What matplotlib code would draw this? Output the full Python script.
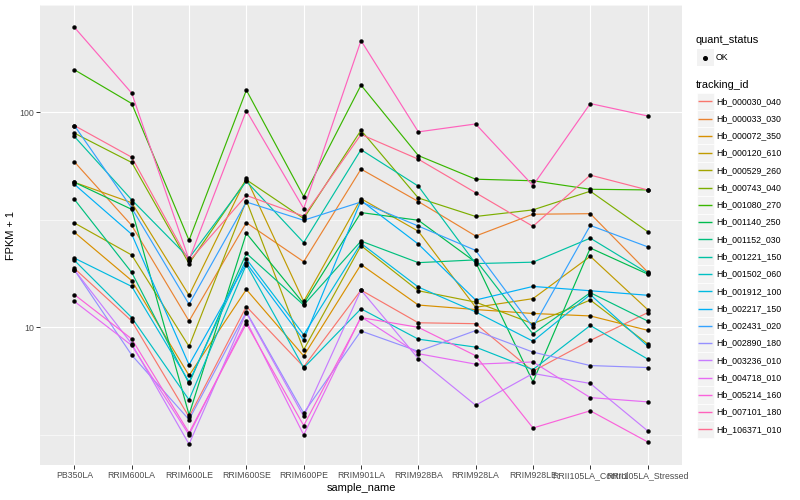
import numpy as np
import matplotlib
matplotlib.use("Agg")
import matplotlib.pyplot as plt
from matplotlib.patches import Rectangle

plt.rcParams['font.family'] = ['Liberation Sans', 'DejaVu Sans']

samples = ["PB350LA", "RRIM600LA", "RRIM600LE", "RRIM600SE", "RRIM600PE", "RRIM901LA",
           "RRIM928BA", "RRIM928LA", "RRIM928LE", "RRII105LA_Control", "RRII105LA_Stressed"]

Hb_000030_040 = [18.8, 10.7, 3.83, 12.5, 6.55, 14.9, 10.5, 10.4, 6.25, 8.69, 11.7]
Hb_000033_030 = [58.9, 29.8, 10.7, 30.7, 20.2, 54.5, 38.5, 26.6, 33.6, 33.8, 18.1]
Hb_000072_350 = [27.7, 16.5, 5.97, 15.0, 7.36, 19.6, 12.7, 12.1, 11.6, 11.3, 9.69]
Hb_000120_610 = [47.3, 38.0, 14.1, 49.4, 13.2, 39.7, 28.0, 12.4, 13.6, 21.4, 12.1]
Hb_000529_260 = [30.6, 21.7, 8.15, 38.9, 7.86, 24.0, 14.8, 13.1, 10.4, 13.4, 8.38]
Hb_000743_040 = [80.1, 58.5, 19.8, 48.6, 32.1, 82.6, 40.0, 32.8, 35.2, 43.0, 27.9]
Hb_001080_270 = [158, 110, 25.4, 127, 40.6, 134, 63.0, 48.9, 48.1, 43.9, 43.6]
Hb_001140_250 = [47.3, 35.4, 3.92, 27.4, 12.9, 34.2, 31.5, 20.1, 5.58, 23.4, 17.7]
Hb_001152_030 = [39.4, 18.0, 5.48, 22.1, 12.7, 25.2, 20.0, 20.6, 9.31, 14.5, 10.7]
Hb_001221_150 = [77.3, 39.2, 21.0, 47.8, 24.8, 67.1, 45.4, 19.8, 20.1, 26.0, 17.9]
Hb_001502_060 = [20.5, 11.1, 4.60, 19.6, 6.48, 12.2, 8.81, 8.09, 6.36, 10.2, 7.12]
Hb_001912_100 = [21.0, 15.5, 5.58, 20.8, 9.24, 24.6, 15.4, 11.8, 8.62, 14.2, 8.18]
Hb_002217_150 = [46.3, 27.1, 6.69, 19.9, 8.74, 38.9, 24.4, 13.4, 15.5, 14.8, 14.1]
Hb_002431_020 = [86.9, 35.9, 12.8, 38.3, 31.5, 38.3, 29.6, 22.8, 10.0, 29.8, 23.7]
Hb_002890_180 = [18.5, 7.43, 3.72, 11.8, 3.99, 9.62, 7.73, 9.66, 7.67, 6.64, 6.50]
Hb_003236_010 = [18.5, 8.38, 2.86, 11.7, 3.85, 14.9, 7.15, 4.34, 6.10, 5.48, 3.30]
Hb_004718_010 = [13.2, 8.24, 3.16, 10.7, 3.16, 11.2, 7.54, 6.74, 6.90, 4.71, 4.50]
Hb_005214_160 = [14.2, 8.83, 3.23, 10.4, 3.49, 11.1, 10.0, 7.38, 3.40, 4.09, 2.93]
Hb_007101_180 = [249, 123, 20.6, 102, 35.7, 216, 81.2, 88.4, 45.7, 110, 96.3]
Hb_106371_010 = [86.9, 61.9, 20.3, 41.1, 32.9, 79.0, 60.6, 42.3, 29.5, 51.1, 43.6]

tracking_ids = ["Hb_000030_040", "Hb_000033_030", "Hb_000072_350", "Hb_000120_610",
                "Hb_000529_260", "Hb_000743_040", "Hb_001080_270", "Hb_001140_250",
                "Hb_001152_030", "Hb_001221_150", "Hb_001502_060", "Hb_001912_100",
                "Hb_002217_150", "Hb_002431_020", "Hb_002890_180", "Hb_003236_010",
                "Hb_004718_010", "Hb_005214_160", "Hb_007101_180", "Hb_106371_010"]
series = [Hb_000030_040, Hb_000033_030, Hb_000072_350, Hb_000120_610, Hb_000529_260,
          Hb_000743_040, Hb_001080_270, Hb_001140_250, Hb_001152_030, Hb_001221_150,
          Hb_001502_060, Hb_001912_100, Hb_002217_150, Hb_002431_020, Hb_002890_180,
          Hb_003236_010, Hb_004718_010, Hb_005214_160, Hb_007101_180, Hb_106371_010]
colors = ["#F8766D", "#EA8331", "#D89000", "#C09B00", "#A3A500", "#7CAE00", "#39B600",
          "#00BB4E", "#00BF7D", "#00C1A3", "#00BFC4", "#00BAE0", "#00B0F6", "#35A2FF",
          "#9590FF", "#C77CFF", "#E76BF3", "#FA62DB", "#FF62BC", "#FF6C91"]

W, H = 800, 500
fig = plt.figure(figsize=(8, 5), dpi=100)
ax = fig.add_axes([40 / W, 35 / H, 642 / W, 460 / H])
ax.set_facecolor("#EBEBEB")

x = np.arange(len(samples))
for vals, c in zip(series, colors):
    ax.plot(x, vals, color=c, lw=0.85, zorder=2, solid_capstyle="butt")
for vals in series:
    ax.plot(x, vals, ls="none", marker="o", ms=2.8, mfc="black", mec="black", mew=0.3, zorder=3)

ax.set_yscale("log")
allv = np.log10(np.concatenate([np.array(s, float) for s in series]))
lo, hi = allv.min(), allv.max()
pad = 0.05 * (hi - lo)
ax.set_ylim(10 ** (lo - pad), 10 ** (hi + pad))
ax.set_xlim(-0.6, len(samples) - 0.4)

ax.set_yticks([10, 100])
ax.set_yticklabels(["10", "100"])
ax.set_yticks([10 ** 0.5, 10 ** 1.5, 10 ** 2.5], minor=True)
ax.yaxis.set_minor_formatter(plt.NullFormatter())
ax.set_xticks(x)
ax.set_xticklabels(samples)
ax.grid(True, which="major", color="white", lw=0.8)
ax.grid(True, which="minor", axis="y", color="white", lw=0.4)
ax.set_axisbelow(True)
for s in ax.spines.values():
    s.set_visible(False)
ax.tick_params(which="major", length=2.8, width=0.7, color="#333333", labelcolor="#4D4D4D",
               labelsize=6.3, pad=1.5)
ax.tick_params(which="minor", length=0)
ax.set_xlabel("sample_name", fontsize=7.9, color="black", labelpad=2)
ax.set_ylabel("FPKM + 1", fontsize=7.9, color="black", labelpad=2)

# legend drawn in figure pixel space
lax = fig.add_axes([0, 0, 1, 1])
lax.set_xlim(0, W)
lax.set_ylim(H, 0)
lax.axis("off")
keyx, keyw, keyh = 696.5, 17.3, 17.3
lax.text(696, 40, "quant_status", fontsize=7.9, va="center", ha="left")
lax.add_patch(Rectangle((keyx, 57.5 - keyh / 2), keyw, keyh, fc="#F2F2F2", ec="none", zorder=1))
lax.plot([keyx + keyw / 2], [57.5], marker="o", ms=2.6, color="black", ls="none", zorder=3)
lax.text(716, 57.5, "OK", fontsize=6.3, va="center", ha="left")
lax.text(696, 85, "tracking_id", fontsize=7.9, va="center", ha="left")
y0, dy = 101.3, 17.27
for i, (tid, c) in enumerate(zip(tracking_ids, colors)):
    yc = y0 + i * dy
    lax.add_patch(Rectangle((keyx, yc - keyh / 2), keyw, keyh, fc="#F2F2F2", ec="white",
                            lw=0.5, zorder=1))
    lax.plot([keyx + 1.7, keyx + keyw - 1.7], [yc, yc], color=c, lw=1.0, zorder=3,
             solid_capstyle="butt")
    lax.text(716, yc, tid, fontsize=6.3, va="center", ha="left", color="black")

fig.savefig("out.png", dpi=100)
